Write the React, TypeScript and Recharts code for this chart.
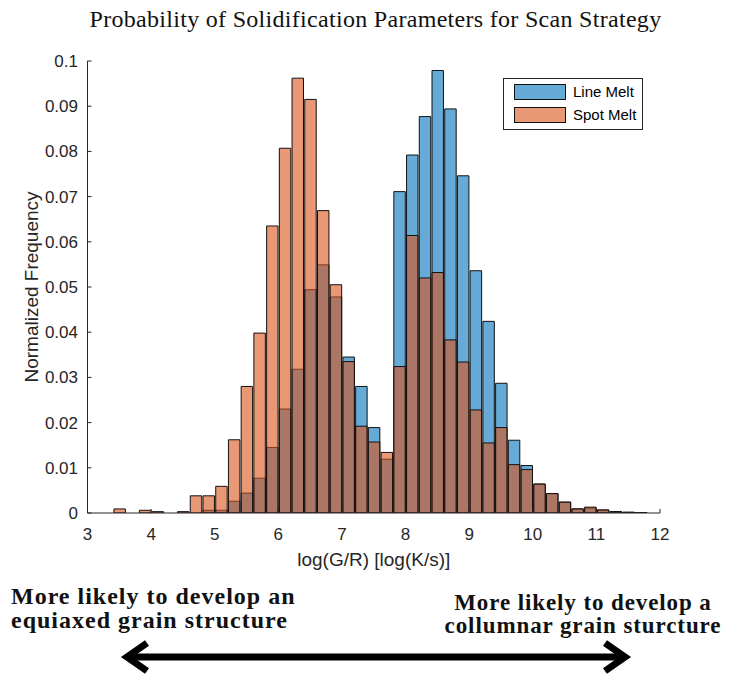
import React from "react";
import { ComposedChart, Bar, XAxis, YAxis, Legend, Label } from "recharts";

// histogram bins (width 0.2), centre of each bin
const binCenters = [
  3.1, 3.3, 3.5, 3.7, 3.9, 4.1, 4.3, 4.5, 4.7, 4.9,
  5.1, 5.3, 5.5, 5.7, 5.9, 6.1, 6.3, 6.5, 6.7, 6.9,
  7.1, 7.3, 7.5, 7.7, 7.9, 8.1, 8.3, 8.5, 8.7, 8.9,
  9.1, 9.3, 9.5, 9.7, 9.9, 10.1, 10.3, 10.5, 10.7, 10.9,
  11.1, 11.3, 11.5, 11.7, 11.9,
];

const lineMelt = [
  0, 0, 0, 0, 0, 0, 0, 0, 0, 0.0006,
  0.0006, 0.0026, 0.0044, 0.0077, 0.0145, 0.023, 0.0318, 0.0494, 0.0549, 0.0478,
  0.0345, 0.028, 0.0189, 0.0119, 0.0711, 0.0792, 0.0877, 0.0979, 0.0894, 0.0746,
  0.0536, 0.0424, 0.0287, 0.0161, 0.0105, 0.0064, 0.0043, 0.0024, 0.0009, 0.0011,
  0.0006, 0.0003, 0.0001, 0.0001, 0,
];

const spotMelt = [
  0, 0, 0.0009, 0, 0.0006, 0.0003, 0, 0.0003, 0.0038, 0.0038,
  0.0059, 0.0162, 0.028, 0.0398, 0.0635, 0.0807, 0.0962, 0.0915, 0.0669, 0.0505,
  0.0335, 0.0192, 0.0157, 0.0134, 0.0324, 0.0614, 0.052, 0.0532, 0.0383, 0.0334,
  0.0228, 0.0155, 0.0189, 0.0107, 0.0096, 0.0064, 0.0043, 0.0024, 0.0009, 0.0013,
  0.0007, 0.0003, 0.0002, 0, 0,
];

const seriesNames = ["Line Melt", "Spot Melt"];
const xTicks = [3, 4, 5, 6, 7, 8, 9, 10, 11, 12];
const yTicks = [0, 0.01, 0.02, 0.03, 0.04, 0.05, 0.06, 0.07, 0.08, 0.09, 0.1];

const data = binCenters.map((x, i) => ({
  x,
  line: lineMelt[i],
  spot: spotMelt[i],
}));

const W = 729;
const H = 680;
const MARGIN = { top: 61, right: 69, bottom: 107, left: 0 };
const Y_AXIS_W = 87.5;
const X_AXIS_H = 60;
const BIN_WIDTH = 0.2;
const plotW = W - MARGIN.left - MARGIN.right - Y_AXIS_W;
const barSize = (plotW * BIN_WIDTH) / (xTicks[xTicks.length - 1] - xTicks[0]);

const AXIS = "#262626";
const SANS = "'Liberation Sans', Arial, sans-serif";
const SERIF = "'Liberation Serif', 'Times New Roman', serif";
const BLUE = "#0072BD";
const ORANGE = "#D95319";
const SWATCH = ["#66aad7", "#e89875"];

function LegendBox() {
  return (
    <div
      style={{
        width: 140,
        boxSizing: "border-box",
        border: `1px solid ${AXIS}`,
        background: "#fff",
        padding: "2px 4px 3px 10px",
        fontFamily: SANS,
        fontSize: 15,
        color: "#000",
        whiteSpace: "nowrap",
      }}
    >
      {seriesNames.map((name, i) => (
        <div key={name} style={{ display: "flex", alignItems: "center", height: 22.7 }}>
          <span
            style={{
              width: 52,
              height: 16,
              boxSizing: "border-box",
              background: SWATCH[i],
              border: "1px solid #111",
              marginRight: 7,
              flex: "none",
            }}
          />
          <span>{name}</span>
        </div>
      ))}
    </div>
  );
}

export default function App() {
  return (
    <div
      style={{
        position: "absolute",
        left: 0,
        top: 0,
        width: W,
        height: H,
        background: "#fff",
        overflow: "hidden",
      }}
    >
      <div
        style={{
          position: "absolute",
          left: 78,
          top: 6.5,
          width: 595,
          textAlign: "center",
          fontFamily: SERIF,
          fontSize: 24,
          letterSpacing: 0.3,
          lineHeight: "24px",
          color: "#111",
          whiteSpace: "nowrap",
        }}
      >
        Probability of Solidification Parameters for Scan Strategy
      </div>

      <ComposedChart width={W} height={H} data={data} margin={MARGIN} barGap={0} barCategoryGap={0}>
        <XAxis
          xAxisId="line"
          dataKey="x"
          type="number"
          domain={[3, 12]}
          ticks={xTicks}
          height={X_AXIS_H}
          stroke={AXIS}
          tickSize={-4}
          tickMargin={19}
          tick={{ fill: AXIS, fontSize: 17, fontFamily: SANS }}
          allowDataOverflow
        >
          <Label
            value="log(G/R) [log(K/s)]"
            position="insideBottom"
            offset={7}
            style={{ fill: AXIS, fontSize: 19, fontFamily: SANS }}
          />
        </XAxis>
        <XAxis xAxisId="spot" dataKey="x" type="number" domain={[3, 12]} hide allowDataOverflow />
        <YAxis
          domain={[0, 0.1]}
          ticks={yTicks}
          width={Y_AXIS_W}
          stroke={AXIS}
          tickSize={-4}
          tickMargin={13.5}
          tick={{ fill: AXIS, fontSize: 17, fontFamily: SANS }}
          allowDataOverflow
        >
          <Label
            value="Normalized Frequency"
            angle={-90}
            position="insideLeft"
            offset={31}
            style={{ fill: AXIS, fontSize: 19, fontFamily: SANS, textAnchor: "middle" }}
          />
        </YAxis>
        <Bar
          xAxisId="line"
          dataKey="line"
          name={seriesNames[0]}
          fill={BLUE}
          fillOpacity={0.6}
          stroke="#111"
          strokeWidth={1}
          barSize={barSize}
          isAnimationActive={false}
        />
        <Bar
          xAxisId="spot"
          dataKey="spot"
          name={seriesNames[1]}
          fill={ORANGE}
          fillOpacity={0.6}
          stroke="#111"
          strokeWidth={1}
          barSize={barSize}
          isAnimationActive={false}
        />
        <Legend
          layout="vertical"
          align="center"
          verticalAlign="middle"
          content={() => <LegendBox />}
          wrapperStyle={{ left: 503, top: 77.5, width: 140, height: "auto" }}
        />
      </ComposedChart>

      <div
        style={{
          position: "absolute",
          left: 11,
          top: 584,
          fontFamily: SERIF,
          fontWeight: "bold",
          fontSize: 24,
          letterSpacing: 1,
          lineHeight: "24px",
          color: "#111",
          whiteSpace: "nowrap",
        }}
      >
        More likely to develop an
        <br />
        equiaxed grain structure
      </div>
      <div
        style={{
          position: "absolute",
          left: 433,
          top: 591,
          width: 300,
          textAlign: "center",
          fontFamily: SERIF,
          fontWeight: "bold",
          fontSize: 23,
          letterSpacing: 0.9,
          lineHeight: "23px",
          color: "#111",
          whiteSpace: "nowrap",
        }}
      >
        More likely to develop a
        <br />
        collumnar grain sturcture
      </div>

      <svg
        width={W}
        height={H}
        style={{ position: "absolute", left: 0, top: 0, pointerEvents: "none" }}
      >
        <line x1={129} y1={657} x2={622} y2={657} stroke="#000" strokeWidth={7} />
        <polyline
          points="147,643 127,657 147,671"
          fill="none"
          stroke="#000"
          strokeWidth={7}
          strokeLinejoin="miter"
        />
        <polyline
          points="605,643 625,657 605,671"
          fill="none"
          stroke="#000"
          strokeWidth={7}
          strokeLinejoin="miter"
        />
      </svg>
    </div>
  );
}
